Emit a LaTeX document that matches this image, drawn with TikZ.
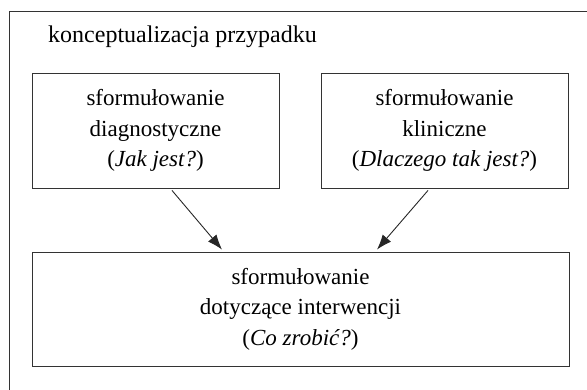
\documentclass[tikz,border=0pt]{standalone}
\usepackage{fontspec}
\setmainfont{Liberation Serif}
\usetikzlibrary{arrows.meta,calc}

\begin{document}
\begin{tikzpicture}[x=1pt,y=-1pt,
  linecol/.style={draw=black!80, line width=0.9pt},
  formbox/.style={linecol, rectangle, align=center, inner sep=0pt,
    font=\fontsize{23}{30.5}\selectfont},
  flow/.style={draw=black!85, line width=0.9pt,
    -{Latex[length=15pt,width=11pt]}},
  heading/.style={anchor=base west, inner sep=0pt,
    font=\fontsize{24}{28}\selectfont}
]
  \useasboundingbox (0,0) rectangle (587,390);

  % open frame around the whole concept
  \coordinate (frameTR) at (587,11);
  \coordinate (frameTL) at (9,11);
  \coordinate (frameBL) at (9,390);
  \draw[linecol] (frameTR) -- (frameTL) -- (frameBL);

  \node[heading] (title) at (48,43) {konceptualizacja przypadku};

  % the two formulations feeding the intervention plan
  \node[formbox, minimum width=247pt, minimum height=115pt] (diag) at (155.5,130.5)
    {sformułowanie\\diagnostyczne\\(\textit{Jak jest?})};
  \node[formbox, minimum width=247pt, minimum height=115pt] (clin) at (444.5,130.5)
    {sformułowanie\\kliniczne\\(\textit{Dlaczego tak jest?})};
  \node[formbox, minimum width=537pt, minimum height=114pt] (interv) at (300.5,309)
    {sformułowanie\\dotyczące interwencji\\(\textit{Co zrobić?})};

  \draw[flow] ($(diag.south)+(16.5,2)$) -- ($(interv.north)+(-78.5,-2)$);
  \draw[flow] ($(clin.south)+(-16.5,2)$) -- ($(interv.north)+(76.5,-2)$);
\end{tikzpicture}
\end{document}
